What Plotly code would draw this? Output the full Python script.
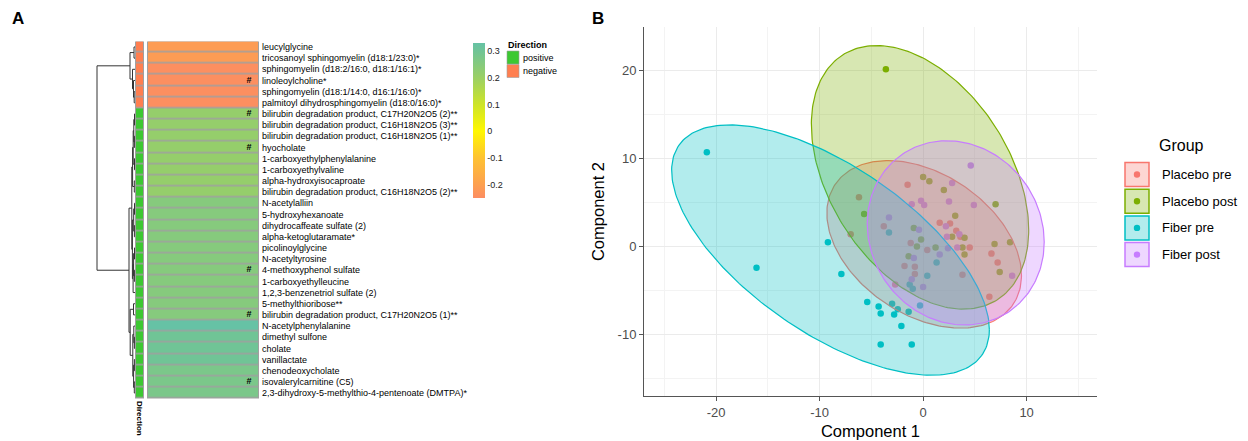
import numpy as np
import plotly.graph_objects as go

# The page body has an 8px margin, so the figure is drawn 8px in from the
# top-left corner of the 1248x441 window; size it to the remaining area.
OFF = 8
W, H = 1248 - OFF, 441 - OFF
FONT = "Liberation Sans, Arial, Helvetica, sans-serif"


def px(x):
    return (x - OFF) / W


def py(y):
    return 1 - (y - OFF) / H


# ---------------- Panel A data ----------------
metabolites = [
    "leucylglycine",
    "tricosanoyl sphingomyelin (d18:1/23:0)*",
    "sphingomyelin (d18:2/16:0, d18:1/16:1)*",
    "linoleoylcholine*",
    "sphingomyelin (d18:1/14:0, d16:1/16:0)*",
    "palmitoyl dihydrosphingomyelin (d18:0/16:0)*",
    "bilirubin degradation product, C17H20N2O5 (2)**",
    "bilirubin degradation product, C16H18N2O5 (3)**",
    "bilirubin degradation product, C16H18N2O5 (1)**",
    "hyocholate",
    "1-carboxyethylphenylalanine",
    "1-carboxyethylvaline",
    "alpha-hydroxyisocaproate",
    "bilirubin degradation product, C16H18N2O5 (2)**",
    "N-acetylalliin",
    "5-hydroxyhexanoate",
    "dihydrocaffeate sulfate (2)",
    "alpha-ketoglutaramate*",
    "picolinoylglycine",
    "N-acetyltyrosine",
    "4-methoxyphenol sulfate",
    "1-carboxyethylleucine",
    "1,2,3-benzenetriol sulfate (2)",
    "5-methylthioribose**",
    "bilirubin degradation product, C17H20N2O5 (1)**",
    "N-acetylphenylalanine",
    "dimethyl sulfone",
    "cholate",
    "vanillactate",
    "chenodeoxycholate",
    "isovalerylcarnitine (C5)",
    "2,3-dihydroxy-5-methylthio-4-pentenoate (DMTPA)*",
]
correlation = [
    -0.21, -0.21, -0.245, -0.245, -0.245, -0.245,
    0.215, 0.215, 0.215, 0.215, 0.215, 0.215, 0.215, 0.215,
    0.25, 0.25, 0.25, 0.25, 0.25, 0.25, 0.25, 0.25, 0.25, 0.25, 0.25,
    0.33, 0.30, 0.30, 0.30, 0.275, 0.275, 0.275,
]
flagged = [
    "linoleoylcholine*",
    "bilirubin degradation product, C17H20N2O5 (2)**",
    "hyocholate",
    "4-methoxyphenol sulfate",
    "bilirubin degradation product, C17H20N2O5 (1)**",
    "isovalerylcarnitine (C5)",
]
direction = ["positive" if v > 0 else "negative" for v in correlation]
direction_levels = ["positive", "negative"]
direction_colors = {"positive": "#3DC832", "negative": "#FF7F50"}

# dendrogram: (left, right, height); leaves are row indices
top_cluster = ((0, 1, 1.0), (2, (3, (4, 5, 0.8), 1.5), 2.5), 5.0)
sub_a1 = ((((6, 7, 0.5), (8, 9, 0.6), 1.2), (10, 11, 0.5), 1.8), (12, 13, 0.7), 2.4)
sub_a2 = (((14, 15, 0.5), (16, 17, 0.6), 1.3), (((18, 19, 0.5), (20, 21, 0.6), 1.4), 22, 1.9), 2.6)
sub_b = ((23, 24, 1.5), ((25, (26, 27, 0.6), 1.2), ((28, 29, 0.6), (30, 31, 0.7), 1.4), 2.2), 4.8)
bottom_cluster = ((sub_a1, sub_a2, 3.2), sub_b, 6.0)
dendro_tree = (top_cluster, bottom_cluster, 38.0)

colorbar_ticks = [-0.2, -0.1, 0, 0.1, 0.2, 0.3]

# ---------------- Panel B data ----------------
groups = ["Placebo pre", "Placebo post", "Fiber pre", "Fiber post"]
group_colors = ["#F8766D", "#7CAE00", "#00BFC4", "#C77CFF"]

placebo_pre_x = [-1.5, 1.6, 2.6, 3.2, 3.6, 4.5, 6.6, 7.2, 6.4, -3.8, -7.0, -1.2, 0.4, -1.8, -0.8, -0.8, -2.7, 3.8, -6.2]
placebo_pre_y = [7.0, 2.7, 2.6, 1.8, 1.1, -0.1, -0.8, -1.8, -5.7, 2.3, 1.4, 0.4, -0.4, -2.2, -2.3, -3.1, -4.3, -3.2, 5.6]
placebo_post_x = [-3.6, -5.7, 0.0, 0.6, 2.0, 7.0, 3.1, 2.8, 4.0, 3.8, 4.0, 6.9, 8.4, 7.4, -0.9, -0.2, -0.6, 1.2, -1.4]
placebo_post_y = [20.1, 3.7, 7.9, 7.4, 6.4, 4.8, 3.5, 1.1, 1.0, -0.1, -0.9, 0.3, 0.5, -2.9, 2.1, 0.8, 0.0, -0.1, -1.1]
fiber_pre_x = [-20.9, -16.1, -9.2, -7.9, -5.4, -4.3, -4.1, -3.0, -2.8, -2.45, -2.1, -1.4, -4.1, -1.1, -3.3, -1.3, -1.0, -0.3, 0.4, 1.3]
fiber_pre_y = [10.7, -2.4, 0.5, -3.1, -6.3, -6.8, -7.6, -6.5, -7.7, -7.1, -9.0, -7.4, -11.1, -11.1, 1.6, -4.3, -4.8, -6.7, -3.3, -1.8]
fiber_post_x = [4.6, 2.8, -1.1, -0.2, 0.1, 2.5, 4.9, 2.2, 3.5, 2.3, 3.3, 8.6, -3.3, -0.4, 1.6, 2.4, -0.9, -1.1, 0.0]
fiber_post_y = [9.2, 7.2, 4.8, 5.2, 4.7, 5.1, 4.7, 2.3, 1.4, 1.1, -0.1, -3.3, 3.3, 1.9, -0.9, -0.2, -1.3, -3.7, -4.6]

# 95% ellipses: centre and covariance
ellipse_cx = [0.1, -0.3, -8.95, 3.15]
ellipse_cy = [0.25, 7.85, -0.4, 1.55]
ellipse_sxx = [88.4, 110.25, 235.6, 73.1]
ellipse_syy = [90.25, 223.5, 201.6, 109.2]
ellipse_sxy = [-33.25, -62.8, -138.5, -8.9]

x_ticks = [-20, -10, 0, 10]
y_ticks = [-10, 0, 10, 20]

group_x = [placebo_pre_x, placebo_post_x, fiber_pre_x, fiber_post_x]
group_y = [placebo_pre_y, placebo_post_y, fiber_pre_y, fiber_post_y]


def rgba(hexc, a):
    h = hexc.lstrip("#")
    r, g, b = int(h[0:2], 16), int(h[2:4], 16), int(h[4:6], 16)
    return f"rgba({r},{g},{b},{a})"


fig = go.Figure()

# ---------------- Panel A ----------------
n = len(metabolites)
zmin, zmax = -0.25, 0.33
stops_v = [-0.25, -0.2, -0.1, 0.0, 0.1, 0.2, 0.3, 0.33]
stops_c = ["#FC8D62", "#FDA050", "#FEC232", "#FFF700", "#CDE428", "#9BD064", "#70C496", "#66C2A5"]
cscale = [[(v - zmin) / (zmax - zmin), c] for v, c in zip(stops_v, stops_c)]

fig.add_trace(go.Heatmap(
    z=[[v] for v in correlation], x0=0, dx=1, y0=0, dy=1,
    zmin=zmin, zmax=zmax, colorscale=cscale, xgap=2, ygap=1.5,
    hoverinfo="skip", xaxis="x", yaxis="y",
    colorbar=dict(
        x=px(473), xanchor="left", y=py(120.5), yanchor="middle",
        len=155, lenmode="pixels", thickness=12, thicknessmode="pixels",
        outlinewidth=0, xpad=0, ypad=0, tickvals=colorbar_ticks,
        ticktext=[f"{t:g}" for t in colorbar_ticks], ticks="",
        tickfont=dict(size=9, color="#222", family=FONT),
    ),
))

dir_z = [[1 if d == "positive" else 0] for d in direction]
fig.add_trace(go.Heatmap(
    z=dir_z, x0=0, dx=1, y0=0, dy=1, zmin=0, zmax=1,
    colorscale=[[0, direction_colors["negative"]], [0.5, direction_colors["negative"]],
                [0.5, direction_colors["positive"]], [1, direction_colors["positive"]]],
    showscale=False, xgap=2, ygap=1.5, hoverinfo="skip", xaxis="x2", yaxis="y",
))

flag_idx = [metabolites.index(m) for m in flagged]
fig.add_trace(go.Scatter(
    x=[0.41] * len(flag_idx), y=flag_idx, mode="text", text=["<b>#</b>"] * len(flag_idx),
    textfont=dict(size=9, color="#000", family=FONT), hoverinfo="skip",
    showlegend=False, xaxis="x", yaxis="y",
))

# dendrogram
seg_x, seg_y = [], []


def build(node):
    if isinstance(node, int):
        return float(node), 0.0
    left, right, h = node
    pl, hl = build(left)
    pr, hr = build(right)
    seg_x.extend([hl, h, h, hr, None])
    seg_y.extend([pl, pl, pr, pr, None])
    return (pl + pr) / 2, h


build(dendro_tree)
fig.add_trace(go.Scatter(
    x=seg_x, y=seg_y, mode="lines", line=dict(color="#333333", width=1),
    hoverinfo="skip", showlegend=False, xaxis="x3", yaxis="y",
))

# ---------------- Panel B ----------------
for g, xs, ys, col in zip(groups, group_x, group_y, group_colors):
    fig.add_trace(go.Scatter(
        x=xs, y=ys, mode="markers", name=g,
        marker=dict(color=col, size=6.5, line=dict(width=0)),
        showlegend=False, xaxis="x4", yaxis="y4",
    ))

t = np.linspace(0, 2 * np.pi, 240)
unit = np.vstack([np.cos(t), np.sin(t)])
for i, col in enumerate(group_colors):
    cov = np.array([[ellipse_sxx[i], ellipse_sxy[i]], [ellipse_sxy[i], ellipse_syy[i]]])
    L = np.linalg.cholesky(cov)
    pts = L @ unit
    fig.add_trace(go.Scatter(
        x=ellipse_cx[i] + pts[0], y=ellipse_cy[i] + pts[1], mode="lines",
        fill="toself", fillcolor=rgba(col, 0.3), line=dict(color=col, width=1.2),
        hoverinfo="skip", showlegend=False, xaxis="x4", yaxis="y4",
    ))

shapes = []
annotations = []

# gray underlays for heatmap cell borders
for x0, x1 in [(135, 144), (147, 259)]:
    shapes.append(dict(type="rect", xref="paper", yref="paper", layer="below",
                       x0=px(x0), x1=px(x1), y0=py(398.6), y1=py(41.4),
                       fillcolor="#A0A0A0", line=dict(width=0)))

# Direction legend
annotations.append(dict(text="<b>Direction</b>", x=px(506), y=py(45.5), xref="paper", yref="paper",
                        xanchor="left", yanchor="middle", showarrow=False,
                        font=dict(size=9, color="#000", family=FONT)))
for k, lev in enumerate(direction_levels):
    y0 = 51 + k * 13.5
    shapes.append(dict(type="rect", xref="paper", yref="paper",
                       x0=px(507), x1=px(519), y0=py(y0 + 13), y1=py(y0),
                       fillcolor=direction_colors[lev], line=dict(color="#A0A0A0", width=0.6)))
    annotations.append(dict(text=lev, x=px(521), y=py(y0 + 6.8), xref="paper", yref="paper",
                            xanchor="left", yanchor="middle", showarrow=False,
                            font=dict(size=9, color="#000", family=FONT)))

annotations.append(dict(text="<b>Direction</b>", x=px(139.5), y=py(400), xref="paper", yref="paper",
                        xanchor="center", yanchor="top", textangle=90, showarrow=False,
                        borderpad=0, font=dict(size=8, color="#000", family=FONT)))

# Panel labels
for lab, xx in [("A", 18), ("B", 598)]:
    annotations.append(dict(text=f"<b>{lab}</b>", x=px(xx), y=py(18), xref="paper", yref="paper",
                            xanchor="center", yanchor="middle", showarrow=False,
                            font=dict(size=17, color="#000", family=FONT)))

# Group legend
annotations.append(dict(text="Group", x=px(1157), y=py(145), xref="paper", yref="paper",
                        xanchor="left", yanchor="middle", showarrow=False,
                        font=dict(size=16, color="#000", family=FONT)))
for k, (g, col) in enumerate(zip(groups, group_colors)):
    yc = 174.5 + k * 26.7
    shapes.append(dict(type="rect", xref="paper", yref="paper",
                       x0=px(1125), x1=px(1149), y0=py(yc + 12), y1=py(yc - 12),
                       fillcolor=rgba(col, 0.3), line=dict(color=col, width=1.5)))
    shapes.append(dict(type="circle", xref="paper", yref="paper",
                       xsizemode="pixel", ysizemode="pixel",
                       xanchor=px(1137), yanchor=py(yc), x0=-3.2, x1=3.2, y0=-3.2, y1=3.2,
                       fillcolor=col, line=dict(width=0)))
    annotations.append(dict(text=g, x=px(1160), y=py(yc), xref="paper", yref="paper",
                            xanchor="left", yanchor="middle", showarrow=False,
                            font=dict(size=13, color="#000", family=FONT)))

hm_y_domain = [py(398.6), py(41.4)]

fig.update_layout(
    width=W, height=H, margin=dict(l=0, r=0, t=0, b=0),
    paper_bgcolor="white", plot_bgcolor="rgba(0,0,0,0)",
    font=dict(family=FONT, color="#000"),
    showlegend=False,
    shapes=shapes, annotations=annotations,
    xaxis=dict(domain=[px(147), px(259)], range=[-0.5, 0.5], visible=False, anchor="y"),
    xaxis2=dict(domain=[px(135), px(144)], range=[-0.5, 0.5], visible=False, anchor="y"),
    xaxis3=dict(domain=[px(96), px(135)], range=[39, 0], visible=False, anchor="y"),
    yaxis=dict(domain=hm_y_domain, range=[n - 0.5, -0.5], anchor="x", side="right",
               tickvals=list(range(n)), ticktext=metabolites, ticks="",
               showgrid=False, zeroline=False, showline=False, ticklabelstandoff=2,
               tickfont=dict(size=9, color="#000", family=FONT)),
    xaxis4=dict(domain=[px(644), px(1097)], range=[-26.97, 16.8], anchor="y4",
                tickvals=x_ticks, ticktext=[str(v) for v in x_ticks],
                showgrid=True, gridcolor="#EBEBEB", gridwidth=1,
                minor=dict(dtick=5, tick0=0, showgrid=True, gridcolor="#F3F3F3", gridwidth=1, ticks=""),
                showline=True, linecolor="#555", linewidth=1, ticks="outside", ticklen=4,
                tickcolor="#555", zeroline=False,
                tickfont=dict(size=13, color="#4D4D4D", family=FONT),
                title=dict(text="Component 1", standoff=6, font=dict(size=16.5, color="#000", family=FONT))),
    yaxis4=dict(domain=[py(396), py(27)], range=[-16.95, 24.9], anchor="x4",
                tickvals=y_ticks, ticktext=[str(v) for v in y_ticks],
                showgrid=True, gridcolor="#EBEBEB", gridwidth=1,
                minor=dict(dtick=5, tick0=0, showgrid=True, gridcolor="#F3F3F3", gridwidth=1, ticks=""),
                showline=True, linecolor="#555", linewidth=1, ticks="outside", ticklen=4,
                tickcolor="#555", zeroline=False,
                tickfont=dict(size=13, color="#4D4D4D", family=FONT),
                title=dict(text="Component 2", standoff=8, font=dict(size=16.5, color="#000", family=FONT))),
)

fig.write_html("out.html")
